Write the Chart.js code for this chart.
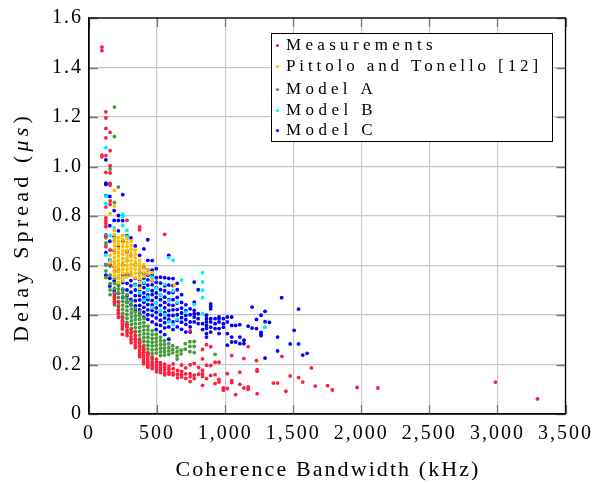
<!DOCTYPE html>
<html>
<head>
<meta charset="utf-8">
<script src="https://cdn.jsdelivr.net/npm/chart.js@4"></script>
<style>
  html, body { margin: 0; padding: 0; background: #fff; }
  #wrap { width: 596px; height: 483px; }
</style>
</head>
<body>
<div id="wrap"><canvas id="chart" width="596" height="483"></canvas></div>
<script>
// Data: [coherence bandwidth kHz, [delay spread us ...]]
const measurements = [
  [95, [1.482, 1.468, 1.046, 1.039]],
  [124, [1.221, 1.196, 1.154, 1.116, 1.044, 0.976, 0.836, 0.792, 0.781, 0.769, 0.757, 0.718, 0.676]],
  [155, [1.138, 1.064, 1.003, 0.974, 0.931, 0.924, 0.861, 0.846, 0.662, 0.604]],
  [187, [0.615, 0.578, 0.483, 0.471, 0.462, 0.449]],
  [216, [0.452, 0.433, 0.419, 0.406, 0.391]],
  [245, [0.392, 0.377, 0.366, 0.354, 0.343, 0.322]],
  [279, [0.782, 0.362, 0.351, 0.338, 0.329, 0.317]],
  [309, [0.343, 0.326, 0.312, 0.301, 0.288]],
  [340, [0.331, 0.316, 0.302, 0.291, 0.279, 0.268]],
  [372, [0.756, 0.744, 0.298, 0.286, 0.271, 0.259, 0.248, 0.239, 0.231]],
  [401, [0.272, 0.261, 0.249, 0.238, 0.229, 0.218, 0.209, 0.203]],
  [432, [0.246, 0.236, 0.224, 0.214, 0.206, 0.196, 0.189]],
  [464, [0.231, 0.219, 0.208, 0.199, 0.191, 0.183]],
  [496, [0.222, 0.209, 0.198, 0.188, 0.179, 0.171]],
  [525, [0.207, 0.196, 0.186, 0.176, 0.167]],
  [556, [0.726, 0.201, 0.189, 0.178, 0.166, 0.158]],
  [587, [0.193, 0.181, 0.169, 0.161]],
  [618, [0.202, 0.183, 0.166, 0.158]],
  [650, [0.176, 0.161, 0.146]],
  [680, [0.198, 0.172, 0.159, 0.149]],
  [710, [0.186, 0.162, 0.144]],
  [743, [0.336, 0.199, 0.163, 0.151, 0.131]],
  [773, [0.204, 0.157, 0.143]],
  [805, [0.188, 0.161]],
  [834, [0.261, 0.223, 0.177, 0.163, 0.152, 0.116]],
  [863, [0.28, 0.197, 0.143]],
  [894, [0.272, 0.196, 0.156]],
  [926, [0.209, 0.159, 0.123]],
  [955, [0.209, 0.14, 0.129]],
  [987, [0.105, 0.096]],
  [1016, [0.163, 0.103]],
  [1048, [0.236, 0.135, 0.127]],
  [1077, [0.078]],
  [1108, [0.169, 0.12]],
  [1138, [0.224, 0.105]],
  [1169, [0.272, 0.109, 0.1]],
  [1230, [0.216]],
  [1235, [0.179, 0.173, 0.082]],
  [1354, [0.125]], [1385, [0.125]], [1417, [0.233]], [1446, [0.092]],
  [1478, [0.154]], [1539, [0.147]], [1570, [0.129]], [1633, [0.186]],
  [1662, [0.113]], [1752, [0.115]], [1787, [0.097]], [1969, [0.107]],
  [2122, [0.105]], [2985, [0.129]], [3294, [0.061]]
];

const pittolo = [
  [155, [0.81, 0.641, 0.612]],
  [187, [0.903, 0.84, 0.742, 0.725, 0.711, 0.694, 0.679, 0.663, 0.648, 0.632, 0.617, 0.601, 0.586, 0.571, 0.556]],
  [216, [0.713, 0.698, 0.684, 0.667, 0.652, 0.638, 0.621, 0.606, 0.592, 0.577, 0.561, 0.547, 0.532]],
  [248, [0.722, 0.706, 0.691, 0.676, 0.66, 0.645, 0.629, 0.614, 0.599, 0.584, 0.569, 0.553, 0.538]],
  [279, [0.708, 0.692, 0.677, 0.661, 0.646, 0.631, 0.615, 0.6, 0.585, 0.57, 0.554]],
  [309, [0.698, 0.681, 0.666, 0.651, 0.636, 0.62, 0.604, 0.589, 0.574, 0.559]],
  [340, [0.662, 0.646, 0.631, 0.616, 0.6, 0.585, 0.569, 0.551]],
  [372, [0.622, 0.607, 0.592, 0.576, 0.561, 0.546, 0.531, 0.507]],
  [403, [0.603, 0.587, 0.571, 0.556]],
  [432, [0.582, 0.566]],
  [464, [0.571, 0.541]],
  [628, [0.52]]
];

const modelA = [
  [124, [0.712, 0.691, 0.603, 0.578, 0.552]],
  [155, [0.99, 0.598, 0.561, 0.527, 0.501, 0.482]],
  [187, [1.24, 1.121, 0.855, 0.548, 0.527, 0.508, 0.489, 0.472, 0.455, 0.441]],
  [216, [0.917, 0.522, 0.505, 0.488, 0.471, 0.455, 0.438, 0.421, 0.405]],
  [248, [0.505, 0.489, 0.473, 0.456, 0.44, 0.424, 0.407, 0.391, 0.375, 0.362]],
  [279, [0.482, 0.466, 0.45, 0.434, 0.418, 0.402, 0.386, 0.37, 0.356]],
  [311, [0.456, 0.44, 0.424, 0.408, 0.392, 0.376, 0.361, 0.345, 0.332]],
  [340, [0.428, 0.412, 0.396, 0.381, 0.365, 0.349, 0.334, 0.318, 0.303]],
  [372, [0.413, 0.397, 0.382, 0.366, 0.35, 0.334, 0.319, 0.303, 0.288, 0.273]],
  [403, [0.386, 0.37, 0.355, 0.339, 0.324, 0.308, 0.293, 0.277, 0.262, 0.25]],
  [433, [0.355, 0.34, 0.324, 0.309, 0.293, 0.278, 0.263, 0.248, 0.238]],
  [464, [0.336, 0.321, 0.305, 0.29, 0.275, 0.259, 0.244, 0.227]],
  [494, [0.322, 0.306, 0.291, 0.276, 0.261, 0.246]],
  [525, [0.311, 0.296, 0.281, 0.266, 0.251, 0.236]],
  [554, [0.296, 0.281, 0.266, 0.252, 0.238]],
  [586, [0.284, 0.269, 0.255, 0.241]],
  [615, [0.276, 0.261, 0.247]],
  [647, [0.268, 0.252, 0.236, 0.222]],
  [676, [0.258, 0.243]],
  [707, [0.284, 0.262]],
  [741, [0.292, 0.273, 0.252]],
  [773, [0.293, 0.273, 0.248]],
  [926, [0.241]]
];

const modelB = [
  [124, [1.076, 0.88, 0.851, 0.722, 0.683, 0.642]],
  [155, [0.721, 0.664, 0.62]],
  [185, [0.752, 0.702, 0.598]],
  [248, [0.807, 0.762, 0.798, 0.55]],
  [279, [0.742, 0.718, 0.621]],
  [340, [0.604, 0.52]],
  [372, [0.582, 0.561, 0.49]],
  [403, [0.532, 0.46]],
  [432, [0.503, 0.472]],
  [464, [0.553, 0.43]],
  [494, [0.508, 0.448]],
  [525, [0.482, 0.418]],
  [556, [0.524, 0.402]],
  [586, [0.632, 0.458, 0.372]],
  [617, [0.621, 0.497, 0.361]],
  [648, [0.452, 0.383]],
  [680, [0.541]],
  [711, [0.412]],
  [773, [0.442]],
  [834, [0.571, 0.534, 0.5, 0.47, 0.405]],
  [1293, [0.351]]
];

const modelC = [
  [124, [1.027, 0.933, 0.927, 0.882, 0.724, 0.652, 0.603, 0.561]],
  [153, [0.931, 0.879, 0.761, 0.698, 0.622, 0.548, 0.517]],
  [185, [0.822, 0.782, 0.718, 0.661, 0.596, 0.538, 0.497]],
  [216, [0.802, 0.782, 0.74, 0.679, 0.578, 0.548, 0.521, 0.488]],
  [248, [0.886, 0.781, 0.698, 0.602, 0.563, 0.531, 0.502, 0.471]],
  [279, [0.721, 0.658, 0.562, 0.528, 0.501, 0.478, 0.452]],
  [308, [0.712, 0.638, 0.561, 0.539, 0.518, 0.492, 0.463, 0.441]],
  [340, [0.679, 0.602, 0.548, 0.523, 0.501, 0.478, 0.458, 0.437, 0.418]],
  [372, [0.641, 0.572, 0.541, 0.519, 0.498, 0.479, 0.461, 0.439, 0.421, 0.402]],
  [403, [0.667, 0.591, 0.568, 0.549, 0.528, 0.511, 0.489, 0.471, 0.452, 0.431, 0.412, 0.391]],
  [432, [0.704, 0.621, 0.582, 0.561, 0.542, 0.521, 0.502, 0.481, 0.462, 0.442, 0.421, 0.401, 0.382]],
  [464, [0.62, 0.581, 0.562, 0.539, 0.522, 0.498, 0.482, 0.459, 0.441, 0.419, 0.398, 0.372]],
  [494, [0.587, 0.551, 0.532, 0.511, 0.489, 0.471, 0.448, 0.429, 0.411, 0.388, 0.362, 0.341]],
  [525, [0.553, 0.529, 0.502, 0.481, 0.462, 0.439, 0.418, 0.401, 0.379, 0.358, 0.332]],
  [556, [0.551, 0.518, 0.498, 0.472, 0.451, 0.429, 0.409, 0.388, 0.369, 0.348, 0.321]],
  [586, [0.641, 0.548, 0.521, 0.489, 0.462, 0.441, 0.418, 0.398, 0.381, 0.352, 0.302]],
  [617, [0.547, 0.519, 0.491, 0.462, 0.439, 0.421, 0.398, 0.372, 0.341]],
  [648, [0.528, 0.502, 0.471, 0.448, 0.422, 0.401, 0.378, 0.352]],
  [680, [0.482, 0.451, 0.428, 0.408, 0.389, 0.371, 0.342]],
  [711, [0.441, 0.418, 0.398, 0.381, 0.362, 0.331]],
  [743, [0.425, 0.401, 0.372, 0.352, 0.331]],
  [773, [0.533, 0.452, 0.419, 0.405, 0.392, 0.372]],
  [802, [0.502, 0.405, 0.385, 0.365]],
  [834, [0.365, 0.341]],
  [863, [0.399, 0.385, 0.372, 0.358, 0.345, 0.325, 0.311]],
  [894, [0.445, 0.435, 0.425, 0.385, 0.372, 0.351, 0.331]],
  [926, [0.385, 0.365, 0.345]],
  [955, [0.392, 0.385, 0.372, 0.345, 0.325]],
  [987, [0.385, 0.365, 0.351]],
  [1016, [0.392, 0.372, 0.325, 0.278]],
  [1048, [0.392, 0.358, 0.311, 0.291]],
  [1077, [0.358, 0.291]],
  [1108, [0.361, 0.311, 0.284]],
  [1138, [0.298, 0.284]],
  [1169, [0.355]],
  [1198, [0.432, 0.347]],
  [1230, [0.382, 0.345]],
  [1264, [0.399, 0.33, 0.324, 0.317]],
  [1293, [0.415, 0.373, 0.226]],
  [1325, [0.37]],
  [1385, [0.311, 0.255]],
  [1415, [0.47]],
  [1478, [0.283]],
  [1507, [0.338]],
  [1539, [0.424, 0.283]],
  [1570, [0.238]],
  [1602, [0.245]]
];

const seriesNames = ['Measurements', 'Pittolo and Tonello [12]', 'Model A', 'Model B', 'Model C'];
const seriesColors = ['rgb(255,32,64)', 'rgb(255,190,0)', 'rgb(70,155,60)', 'rgb(0,240,255)', 'rgb(0,0,255)'];
const xTicks = [0, 500, 1000, 1500, 2000, 2500, 3000, 3500];
const yTicks = [0, 0.2, 0.4, 0.6, 0.8, 1.0, 1.2, 1.4, 1.6];

const SERIF = "'Liberation Serif', 'Times New Roman', serif";

function toPoints(columns) {
    return columns.flatMap(([x, ys]) => ys.map(y => ({ x, y })));
}

// Draw order: first dataset is painted last (on top)
const allSeries = [measurements, pittolo, modelA, modelB, modelC];
const drawOrder = [1, 0, 2, 3, 4];

const datasets = allSeries.map((cols, i) => ({
    label: seriesNames[i],
    data: toPoints(cols),
    backgroundColor: seriesColors[i],
    borderWidth: 0,
    pointRadius: 1.9,
    order: drawOrder[i]
}));

function spacedText(ctx, text, x, y, width) {
    ctx.letterSpacing = '0px';
    const w = ctx.measureText(text).width;
    ctx.letterSpacing = ((width - w) / text.length) + 'px';
    ctx.fillText(text, x, y);
    ctx.letterSpacing = '0px';
}

const decorPlugin = {
    id: 'decor',
    beforeDraw(chart) {
        chart.ctx.letterSpacing = '2px';
    },
    afterDraw(chart) {
        const { ctx, chartArea: a, scales } = chart;
        ctx.save();

        // inner tick marks on all four sides
        ctx.strokeStyle = 'rgb(120,120,120)';
        ctx.lineWidth = 1.3;
        const len = 9;
        xTicks.forEach(v => {
            const px = Math.round(scales.x.getPixelForValue(v)) + 0.5;
            ctx.beginPath();
            ctx.moveTo(px, a.bottom); ctx.lineTo(px, a.bottom - len);
            ctx.moveTo(px, a.top); ctx.lineTo(px, a.top + len);
            ctx.stroke();
        });
        yTicks.forEach(v => {
            const py = Math.round(scales.y.getPixelForValue(v)) + 0.5;
            ctx.beginPath();
            ctx.moveTo(a.left, py); ctx.lineTo(a.left + len, py);
            ctx.moveTo(a.right, py); ctx.lineTo(a.right - len, py);
            ctx.stroke();
        });

        // frame
        ctx.strokeStyle = '#000';
        ctx.lineWidth = 1.3;
        ctx.strokeRect(a.left, a.top, a.right - a.left, a.bottom - a.top);

        // legend box
        const lx = 271, ly = 33, lw = 281, lh = 108;
        ctx.fillStyle = '#fff';
        ctx.fillRect(lx, ly, lw, lh);
        ctx.strokeStyle = '#000';
        ctx.lineWidth = 1;
        ctx.strokeRect(lx + 0.5, ly + 0.5, lw, lh);
        const rows = [45, 66, 89, 110, 130];
        const widths = [151, 256, 91, 91, 91];
        ctx.font = '17px ' + SERIF;
        ctx.textBaseline = 'middle';
        ctx.textAlign = 'left';
        seriesNames.forEach((name, i) => {
            ctx.fillStyle = seriesColors[i];
            ctx.beginPath();
            ctx.arc(277.5, rows[i] + 0.5, 1.6, 0, Math.PI * 2);
            ctx.fill();
            ctx.fillStyle = '#000';
            spacedText(ctx, name, 286, rows[i] + 1, widths[i]);
        });

        // x axis title
        ctx.font = '22px ' + SERIF;
        ctx.textAlign = 'center';
        ctx.textBaseline = 'alphabetic';
        ctx.fillStyle = '#000';
        spacedText(ctx, 'Coherence Bandwidth (kHz)', 328, 476, 305);

        // y axis title, with italic unit, fitted to its length in the picture
        ctx.translate(28, 227);
        ctx.rotate(-Math.PI / 2);
        ctx.textAlign = 'left';
        const parts = [['Delay Spread (', false], ['\u03bcs', true], [')', false]];
        const fontOf = it => (it ? 'italic ' : '') + '22px ' + SERIF;
        let raw = 0, n = 0;
        ctx.letterSpacing = '0px';
        parts.forEach(([t, it]) => {
            ctx.font = fontOf(it);
            raw += ctx.measureText(t).width;
            n += t.length;
        });
        const sp = (230 - raw) / n;
        let cx = -115;
        parts.forEach(([t, it]) => {
            ctx.font = fontOf(it);
            ctx.letterSpacing = sp + 'px';
            ctx.fillText(t, cx, 0);
            cx += ctx.measureText(t).width;
        });
        ctx.letterSpacing = '0px';
        ctx.restore();
    }
};

const gridColor = 'rgb(200,200,200)';

new Chart(document.getElementById('chart'), {
    type: 'scatter',
    data: { datasets },
    options: {
        responsive: false,
        animation: false,
        devicePixelRatio: 1,
        layout: { padding: { left: 0, right: 27, top: 17, bottom: 0 } },
        plugins: {
            legend: { display: false },
            tooltip: { enabled: false }
        },
        scales: {
            x: {
                type: 'linear',
                min: 0,
                max: 3500,
                afterBuildTicks: s => { s.ticks = xTicks.map(v => ({ value: v })); },
                afterFit: s => { s.height = 69; },
                ticks: {
                    color: '#000',
                    font: { family: SERIF, size: 20 },
                    padding: 8,
                    maxRotation: 0,
                    callback: v => v.toLocaleString('en-US')
                },
                grid: { color: gridColor, lineWidth: 1.2, drawTicks: false },
                border: { color: '#000', width: 1.3 }
            },
            y: {
                min: 0,
                max: 1.6,
                afterBuildTicks: s => { s.ticks = yTicks.map(v => ({ value: v })); },
                afterFit: s => { s.width = 89; },
                ticks: {
                    color: '#000',
                    font: { family: SERIF, size: 20 },
                    padding: 6,
                    callback: v => v === 0 ? '0' : v.toFixed(1)
                },
                grid: { color: gridColor, lineWidth: 1.2, drawTicks: false },
                border: { color: '#000', width: 1.3 }
            }
        }
    },
    plugins: [decorPlugin]
});
</script>
</body>
</html>
